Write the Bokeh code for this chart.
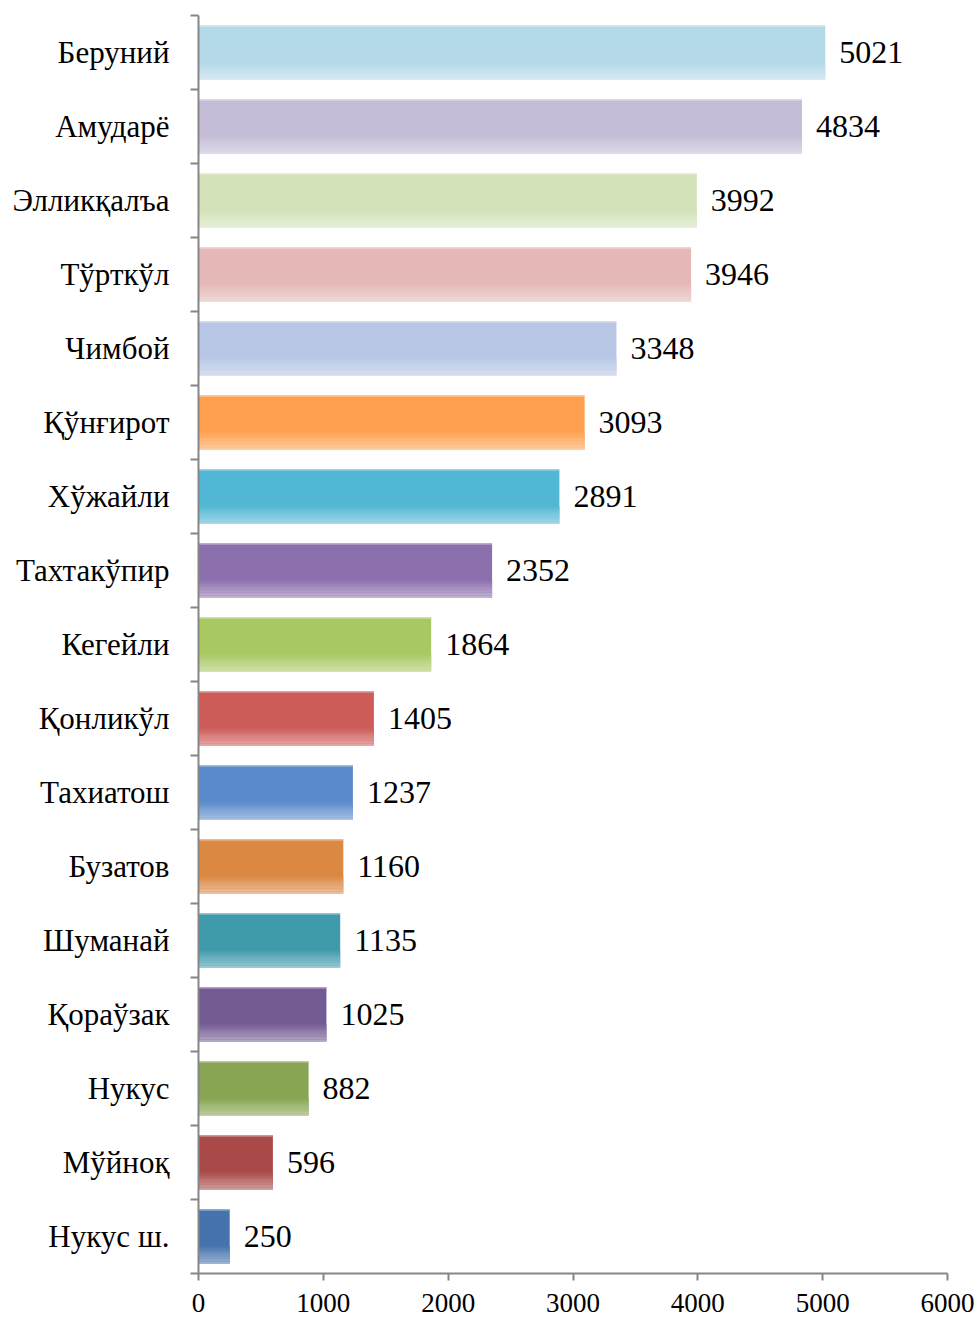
from bokeh.plotting import figure
from bokeh.models import ColumnDataSource, Range1d, FixedTicker, LinearAxis
from bokeh.transform import dodge
from bokeh.embed import file_html
from bokeh.resources import INLINE
from bokeh.core.properties import value

districts = ["Беруний", "Амударё", "Элликқалъа", "Тўрткўл", "Чимбой", "Қўнғирот",
             "Хўжайли", "Тахтакўпир", "Кегейли", "Қонликўл", "Тахиатош", "Бузатов",
             "Шуманай", "Қораўзак", "Нукус", "Мўйноқ", "Нукус ш."]
values = [5021, 4834, 3992, 3946, 3348, 3093, 2891, 2352, 1864, 1405, 1237, 1160,
          1135, 1025, 882, 596, 250]
colors = ["#b4d9e8", "#c5bcd7", "#d3e2b9", "#e5b8b7", "#b8c7e5", "#ffa04f",
          "#51b7d4", "#8c6fad", "#a8c962", "#cd5b58", "#5a8acb", "#db8842",
          "#3f9aac", "#735a92", "#87a552", "#a94a48", "#4673ad"]
x_ticks = [0, 1000, 2000, 3000, 4000, 5000, 6000]

n = len(districts)
ypos = [n - 1 - i for i in range(n)]
FONT = "Liberation Serif"


def mix(c, t):
    r, g, b = int(c[1:3], 16), int(c[3:5], 16), int(c[5:7], 16)
    r = int(r + (255 - r) * t)
    g = int(g + (255 - g) * t)
    b = int(b + (255 - b) * t)
    return "#%02x%02x%02x" % (r, g, b)


src = ColumnDataSource(dict(y=ypos, v=values, c=colors, name=districts,
                            lbl=[str(v) for v in values]))

p = figure(width=976, height=1316, output_backend="svg", toolbar_location=None,
           x_range=Range1d(0, 6000), y_range=Range1d(-0.5, n - 0.5),
           x_axis_location=None, y_axis_location=None,
           min_border_left=198, min_border_right=29, min_border_top=15,
           min_border_bottom=43)
p.outline_line_color = None
p.grid.visible = False

BH = 0.73
p.hbar(y="y", right="v", left=0, height=BH, source=src, fill_color="c",
       line_color=None)

# gradient strips at the bottom of each bar
steps = 10
frac = 0.32
sh = BH * frac / steps
for k in range(steps):
    t = 0.45 * (k + 1) / steps
    cols = [mix(c, t) for c in colors]
    s2 = ColumnDataSource(dict(y=ypos, v=values, c=cols))
    off = -BH / 2 + BH * frac - (k + 0.5) * sh
    p.hbar(y=dodge("y", off), right="v", left=0, height=sh * 1.05, source=s2,
           fill_color="c", line_color=None)
# light top edge
s3 = ColumnDataSource(dict(y=ypos, v=values, c=[mix(c, 0.35) for c in colors]))
p.hbar(y=dodge("y", BH / 2 - 0.008), right="v", left=0, height=0.016, source=s3,
       fill_color="c", line_color=None)

# value labels
p.text(x="v", y="y", text="lbl", source=src, x_offset=14, text_baseline="middle",
       text_align="left", text_font=value(FONT), text_font_size="32px",
       text_color="black")

# x axis
xa = LinearAxis(ticker=FixedTicker(ticks=x_ticks, minor_ticks=[]))
xa.axis_line_color = "#868686"
xa.axis_line_width = 2
xa.major_tick_line_color = "#868686"
xa.major_tick_line_width = 2
xa.major_tick_in = 0
xa.major_tick_out = 7
xa.major_label_text_font = FONT
xa.major_label_text_font_size = "27px"
xa.major_label_text_color = "black"
xa.major_label_standoff = 13
p.add_layout(xa, "below")

# y axis: labels at centers, ticks at boundaries
ya = LinearAxis(ticker=FixedTicker(ticks=ypos,
                                   minor_ticks=[i - 0.5 for i in range(n + 1)]))
ya.major_label_overrides = {yy: nm for yy, nm in zip(ypos, districts)}
ya.axis_line_color = "#868686"
ya.axis_line_width = 2
ya.major_tick_line_color = None
ya.major_tick_in = 0
ya.major_tick_out = 0
ya.minor_tick_line_color = "#868686"
ya.minor_tick_line_width = 2
ya.minor_tick_in = 0
ya.minor_tick_out = 8
ya.major_label_text_font = FONT
ya.major_label_text_font_size = "31px"
ya.major_label_text_color = "black"
ya.major_label_standoff = 21
p.add_layout(ya, "left")

open("out.html", "w").write(file_html(p, INLINE))
